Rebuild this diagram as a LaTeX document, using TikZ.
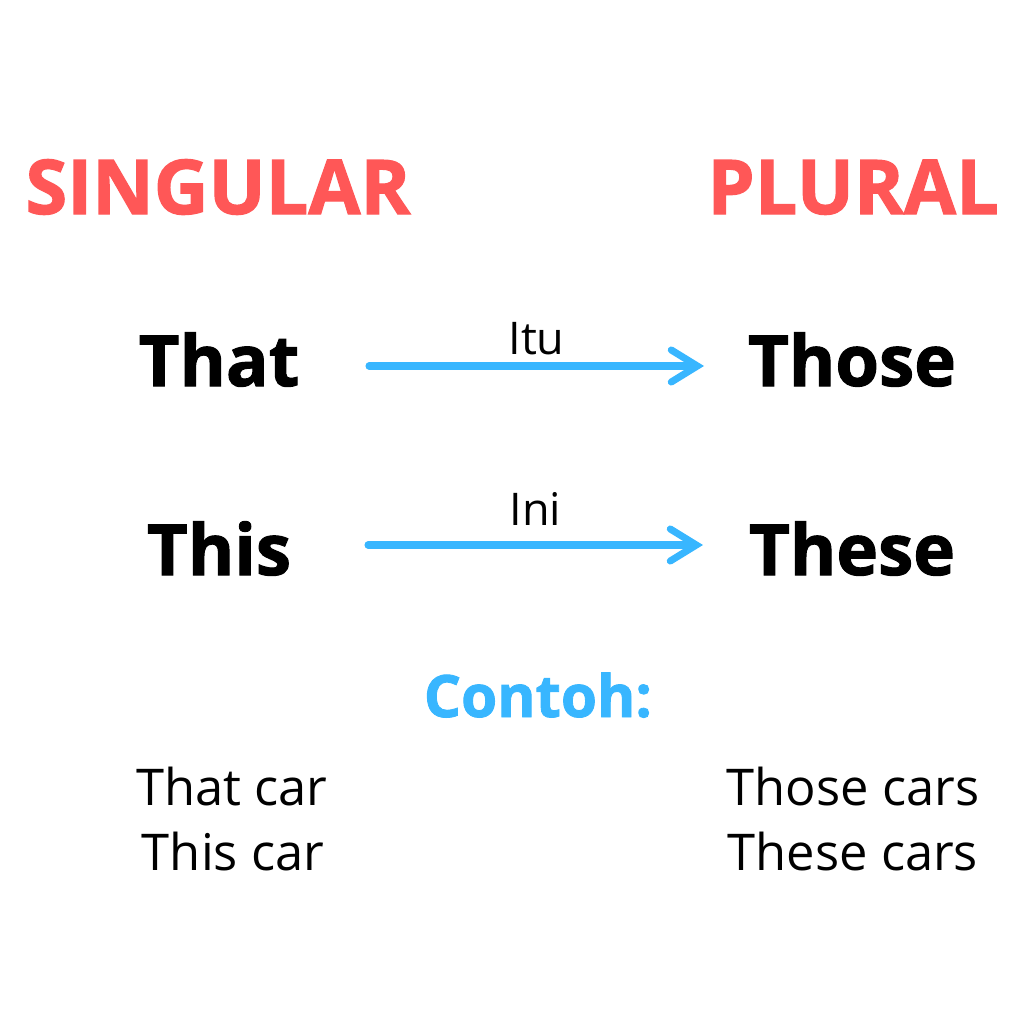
\documentclass[tikz,border=0pt]{standalone}
\usepackage{fontspec}
\setmainfont{Open Sans}[BoldFeatures={FakeBold=1.5}]
\usepackage{xcolor}
\usetikzlibrary{positioning, arrows.meta}

\definecolor{headred}{HTML}{FF5757}
\definecolor{linkblue}{HTML}{38B6FF}

\tikzset{
  heading/.style = {anchor=base, text=headred, font=\fontsize{21.5}{25}\selectfont\bfseries},
  word/.style = {anchor=base, font=\fontsize{20.1}{24}\selectfont\bfseries},
  gloss/.style = {anchor=base, font=\fontsize{12.8}{15}\selectfont},
  sample/.style = {anchor=base, font=\fontsize{14.4}{17}\selectfont},
  link/.style = {draw=linkblue, line width=2pt, line cap=round,
    -{Straight Barb[length=2.6mm, width=3.2mm, line cap=round]}}
}

\begin{document}
\begin{tikzpicture} [x=0.01cm, y=-0.01cm]

    \useasboundingbox (0,0) rectangle (1024,1024);

    \node (sg) [heading] at (218,214) {SINGULAR}; \node (pl) [heading]
    at (853,214) {PLURAL};

    \node (that) [word] at (219,386) {That}; \node (those) [word] at
    (852,386) {Those}; \node (this) [word] at (219,575) {This}; \node
    (these) [word] at (852,575) {These};

    \coordinate (a1) at (369,366); \coordinate (b1) at (704,366);
    \coordinate (a2) at (368,545); \coordinate (b2) at (703,545);

    \draw [link] (a1) -- node [gloss, yshift=1.1mm] {Itu} (b1);
    \draw [link] (a2) -- node [gloss, yshift=1.9mm] {Ini} (b2);

    \node (ex) [sample, text=linkblue, font=\fontsize{16.6}{19}\selectfont\bfseries]
    at (538,717) {Contoh:};

    \node (car1) [sample] at (232,805) {That car}; \node (car2) [sample]
    at (233,870) {This car}; \node (cars1) [sample] at (853,805) {Those
    cars}; \node (cars2) [sample] at (853,870) {These cars};
\end{tikzpicture}
\end{document}
